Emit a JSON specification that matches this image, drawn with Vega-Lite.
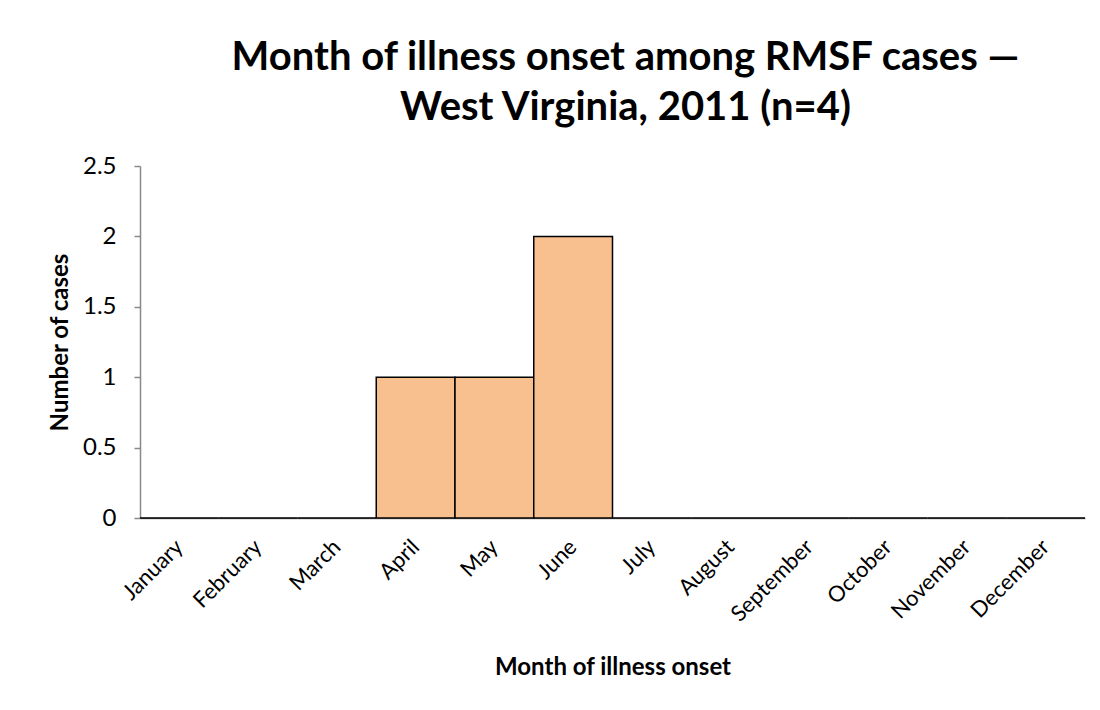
{
  "$schema": "https://vega.github.io/schema/vega-lite/v6.json",
  "autosize": {"type": "none"},
  "width": 945,
  "height": 352,
  "padding": {"left": 140, "top": 166, "right": 15, "bottom": 192},
  "background": "white",
  "title": {
    "text": ["Month of illness onset among RMSF cases —", "West Virginia, 2011 (n=4)"],
    "font": "Lato",
    "fontSize": 40,
    "fontWeight": "bold",
    "color": "black",
    "anchor": "middle",
    "lineHeight": 50,
    "offset": 26,
    "dx": 13
  },
  "data": {
    "values": [
      {"month": "January", "cases": 0},
      {"month": "February", "cases": 0},
      {"month": "March", "cases": 0},
      {"month": "April", "cases": 1},
      {"month": "May", "cases": 1},
      {"month": "June", "cases": 2},
      {"month": "July", "cases": 0},
      {"month": "August", "cases": 0},
      {"month": "September", "cases": 0},
      {"month": "October", "cases": 0},
      {"month": "November", "cases": 0},
      {"month": "December", "cases": 0}
    ]
  },
  "mark": {"type": "bar", "fill": "#F9C08F", "stroke": "black", "strokeWidth": 1.5},
  "encoding": {
    "x": {
      "field": "month",
      "type": "nominal",
      "sort": null,
      "scale": {"paddingInner": 0, "paddingOuter": 0},
      "axis": {
        "title": "Month of illness onset",
        "titleFont": "Lato",
        "titleFontSize": 24,
        "titleFontWeight": "bold",
        "titleColor": "black",
        "titlePadding": 30,
        "labelAngle": -45,
        "labelAlign": "right",
        "labelBaseline": "middle",
        "labelFont": "Lato",
        "labelFontSize": 22,
        "labelColor": "black",
        "labelPadding": 25,
        "labelLimit": 300,
        "ticks": false,
        "domainColor": "#898989",
        "domainWidth": 1.5,
        "grid": false
      }
    },
    "y": {
      "field": "cases",
      "type": "quantitative",
      "scale": {"domain": [0, 2.5], "nice": false},
      "axis": {
        "title": "Number of cases",
        "titleFont": "Lato",
        "titleFontSize": 24,
        "titleFontWeight": "bold",
        "titleColor": "black",
        "titlePadding": 10,
        "values": [0, 0.5, 1, 1.5, 2, 2.5],
        "format": "~g",
        "labelFont": "Lato",
        "labelFontSize": 24,
        "labelColor": "black",
        "labelPadding": 18,
        "tickSize": 6,
        "tickColor": "#898989",
        "tickWidth": 1.5,
        "domainColor": "#898989",
        "domainWidth": 1.5,
        "grid": false
      }
    }
  },
  "config": {"view": {"stroke": null}}
}
